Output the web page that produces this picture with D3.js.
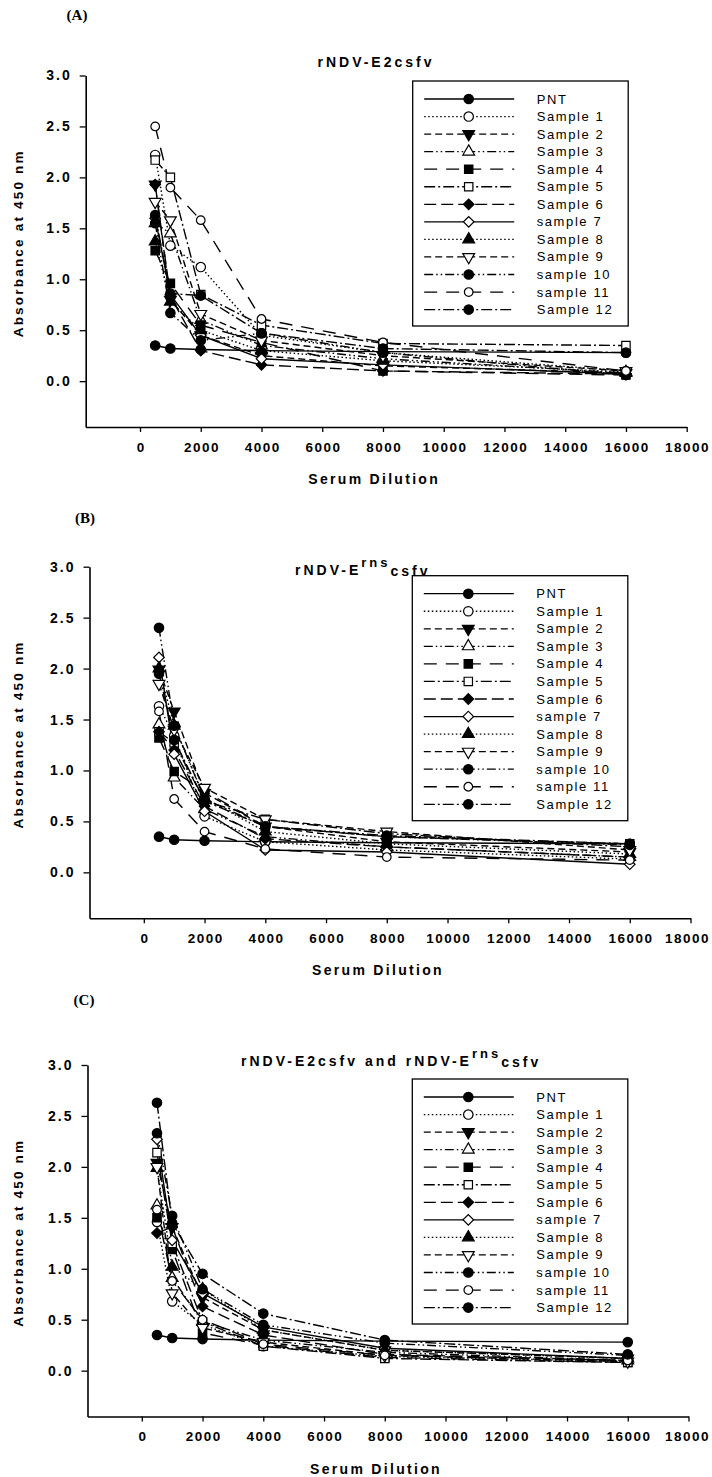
<!DOCTYPE html>
<html><head><meta charset="utf-8">
<script src="https://cdn.jsdelivr.net/npm/d3@7"></script>
<style>
html,body{margin:0;padding:0;background:#fff;}
svg{display:block;}
</style></head>
<body>
<svg id="chart" width="712" height="1477"></svg>
<script>
// ---------------- data ----------------
const dilutions = [500, 1000, 2000, 4000, 8000, 16000];
const seriesNames = ["PNT","Sample 1","Sample 2","Sample 3","Sample 4","Sample 5","Sample 6","sample 7","Sample 8","Sample 9","sample 10","sample 11","Sample 12"];
const xTickValues = [0,2000,4000,6000,8000,10000,12000,14000,16000,18000];
const yTickValues = [0.0,0.5,1.0,1.5,2.0,2.5,3.0];
const panelLabels = ["(A)","(B)","(C)"];
const xAxisTitle = "Serum Dilution";
const yAxisTitle = "Absorbance at 450 nm";

// Panel A: rNDV-E2csfv
const absorbanceA = [
  [0.35,0.32,0.31,0.30,0.29,0.28],
  [2.22,1.33,1.12,0.45,0.28,0.10],
  [1.93,0.80,0.45,0.25,0.15,0.08],
  [1.55,1.45,0.60,0.35,0.22,0.08],
  [1.28,0.96,0.55,0.38,0.10,0.06],
  [2.17,2.00,0.85,0.55,0.37,0.35],
  [1.93,0.83,0.30,0.16,0.10,0.07],
  [1.60,0.85,0.45,0.22,0.16,0.07],
  [1.37,0.78,0.50,0.30,0.20,0.09],
  [1.76,1.58,0.66,0.40,0.25,0.10],
  [1.55,0.67,0.40,0.47,0.28,0.06],
  [2.50,1.90,1.58,0.61,0.38,0.10],
  [1.63,0.86,0.84,0.47,0.32,0.28]
];
// Panel B: rNDV-Erns csfv
const absorbanceB = [
  [0.35,0.32,0.31,0.30,0.29,0.28],
  [1.63,1.34,0.55,0.30,0.22,0.13],
  [1.99,1.58,0.78,0.45,0.30,0.20],
  [1.45,0.93,0.62,0.35,0.25,0.15],
  [1.32,0.99,0.80,0.45,0.35,0.28],
  [1.38,1.27,0.70,0.52,0.38,0.25],
  [1.38,1.20,0.65,0.33,0.25,0.15],
  [2.11,1.16,0.60,0.22,0.20,0.08],
  [2.00,1.44,0.73,0.40,0.28,0.18],
  [1.85,1.40,0.83,0.52,0.40,0.22],
  [2.40,1.44,0.72,0.45,0.35,0.27],
  [1.58,0.72,0.40,0.23,0.15,0.12],
  [1.95,1.30,0.70,0.45,0.36,0.28]
];
// Panel C: rNDV-E2csfv and rNDV-Erns csfv
const absorbanceC = [
  [0.35,0.32,0.31,0.30,0.29,0.28],
  [1.46,0.68,0.45,0.24,0.14,0.09],
  [2.04,1.41,0.72,0.40,0.20,0.12],
  [1.62,0.91,0.48,0.30,0.18,0.10],
  [1.50,1.19,0.37,0.25,0.13,0.08],
  [2.14,1.25,0.48,0.24,0.12,0.08],
  [1.35,1.41,0.63,0.35,0.16,0.10],
  [2.27,1.28,0.76,0.43,0.22,0.12],
  [1.99,1.02,0.80,0.40,0.20,0.12],
  [2.00,0.76,0.42,0.28,0.15,0.09],
  [2.33,1.52,0.80,0.45,0.27,0.15],
  [1.58,0.88,0.50,0.26,0.15,0.10],
  [2.63,1.45,0.95,0.56,0.30,0.16]
];

// ---------------- styles ----------------
const SANS = "'Liberation Sans', Arial, Helvetica, sans-serif";
const SERIF = "'Liberation Serif', 'Times New Roman', serif";
const styles = [
  {dash:null, sym:"circle", fill:true},
  {dash:"1.5,2.5", sym:"circle", fill:false},
  {dash:"7,4", sym:"tridown", fill:true},
  {dash:"9,3,1.5,3,1.5,3", sym:"triup", fill:false},
  {dash:"13,9", sym:"square", fill:true},
  {dash:"11,3,2,3", sym:"square", fill:false},
  {dash:"12,5", sym:"diamond", fill:true},
  {dash:null, sym:"diamond", fill:false},
  {dash:"1.5,2.5", sym:"triup", fill:true},
  {dash:"7,4", sym:"tridown", fill:false},
  {dash:"9,3,1.5,3,1.5,3", sym:"circle", fill:true},
  {dash:"13,9", sym:"circle", fill:false, small:true},
  {dash:"11,3,2,3", sym:"circle", fill:true}
];
function symbolPath(s){
  switch(s.sym){
    case "circle": return d3.symbol(d3.symbolCircle, s.small?58:70)();
    case "square": return d3.symbol(d3.symbolSquare, 70)();
    case "diamond": return d3.symbol(d3.symbolSquare, 56)();
    case "triup": return d3.symbol(d3.symbolTriangle, 60)();
    case "tridown": return d3.symbol(d3.symbolTriangle, 60)();
  }
}
function symbolRotate(s){
  if(s.sym==="diamond") return 45;
  if(s.sym==="tridown") return 180;
  return 0;
}

const svg = d3.select("#chart");
const W = 601, H = 351.5;

const panels = [
  {left:85.7, top:75.5, data:absorbanceA, label:[77,20],
   title:[{t:"rNDV-E2csfv"}], titleX:376, titleY:67, anchor:"middle",
   legend:[412.7,81]},
  {left:89.5, top:566.7, data:absorbanceB, label:[85,523],
   title:[{t:"rNDV-E"},{t:"rns",sup:true},{t:"csfv"}], titleX:295, titleY:575, anchor:"start",
   legend:[412.3,575.7]},
  {left:87.5, top:1065, data:absorbanceC, label:[84,1005],
   title:[{t:"rNDV-E2csfv and rNDV-E"},{t:"rns",sup:true},{t:"csfv"}], titleX:241, titleY:1066, anchor:"start",
   legend:[412.3,1079]}
];

panels.forEach((p,pi)=>{
  const g = svg.append("g");
  const x = d3.scaleLinear().domain([-1788,18000]).range([p.left, p.left+W]);
  const y = d3.scaleLinear().domain([-0.45,3.0]).range([p.top+H, p.top]);

  // panel label
  g.append("text").attr("x",p.label[0]).attr("y",p.label[1])
    .attr("text-anchor","middle").attr("font-family",SERIF).attr("font-weight","bold")
    .attr("font-size",15).text(panelLabels[pi]);

  // title
  const tt = g.append("text").attr("x",p.titleX).attr("y",p.titleY)
    .attr("text-anchor",p.anchor).attr("font-family",SANS).attr("font-weight","bold")
    .attr("font-size",14).style("letter-spacing","3px");
  p.title.forEach(part=>{
    const ts = tt.append("tspan").text(part.t);
    if(part.sup){ ts.attr("dy",-8).attr("font-size",13); }
    else if(tt.selectAll("tspan").size()>1){ ts.attr("dy",9); }
  });

  // axes
  const ax = g.append("g").attr("transform",`translate(0,${p.top+H})`)
    .call(d3.axisBottom(x).tickValues(xTickValues).tickSize(5).tickSizeOuter(0).tickPadding(10).tickFormat(d3.format("d")));
  const ay = g.append("g").attr("transform",`translate(${p.left},0)`)
    .call(d3.axisLeft(y).tickValues(yTickValues).tickSize(6).tickSizeOuter(0).tickPadding(8).tickFormat(d3.format(".1f")));
  [ax,ay].forEach(a=>{
    a.select(".domain").attr("stroke","#000").attr("stroke-width",1.6);
    a.selectAll(".tick line").attr("stroke","#000").attr("stroke-width",1.3);
    a.selectAll(".tick text").attr("font-family",SANS).attr("font-weight","bold")
      .attr("font-size",14).attr("fill","#000").style("letter-spacing","2px");
  });
  ax.selectAll(".tick text").attr("font-size",13.5).style("letter-spacing","1.5px").attr("dx","0.75px");
  // keep the last x label inside the page
  ax.selectAll(".tick text").each(function(){
    const b = this.getBBox();
    const m = this.parentNode.transform.baseVal.consolidate().matrix;
    const right = m.e + b.x + b.width;
    if(right > 710){ d3.select(this).attr("dx", (0.75 - (right-710))+"px"); }
  });

  // axis titles
  g.append("text").attr("x",(p.left+p.left+W)/2 - 12).attr("y",p.top+H+57)
    .attr("text-anchor","middle").attr("font-family",SANS).attr("font-weight","bold")
    .attr("font-size",14).style("letter-spacing","2.3px").text(xAxisTitle);
  g.append("text").attr("transform",`translate(23,${p.top+H/2-8}) rotate(-90)`)
    .attr("text-anchor","middle").attr("font-family",SANS).attr("font-weight","bold")
    .attr("font-size",13.5).style("letter-spacing","2.2px").text(yAxisTitle);

  // series lines
  const line = d3.line().x(d=>x(d[0])).y(d=>y(d[1]));
  p.data.forEach((vals,si)=>{
    const s = styles[si];
    const pts = dilutions.map((dv,i)=>[dv,vals[i]]);
    g.append("path").attr("d",line(pts)).attr("fill","none").attr("stroke","#000")
      .attr("stroke-width",1.4).attr("stroke-dasharray",s.dash);
  });
  // markers
  p.data.forEach((vals,si)=>{
    const s = styles[si];
    dilutions.forEach((dv,i)=>{
      g.append("path").attr("d",symbolPath(s))
        .attr("transform",`translate(${x(dv)},${y(vals[i])}) rotate(${symbolRotate(s)})`)
        .attr("fill",s.fill?"#000":"#fff").attr("stroke","#000").attr("stroke-width",1.2);
    });
  });

  // legend
  const lx = p.legend[0], ly = p.legend[1];
  const lg = g.append("g");
  lg.append("rect").attr("x",lx).attr("y",ly).attr("width",215.5).attr("height",245)
    .attr("fill","#fff").attr("stroke","#000").attr("stroke-width",1.3);
  seriesNames.forEach((name,si)=>{
    const s = styles[si];
    const ry = ly + 18 + si*17.55;
    lg.append("line").attr("x1",lx+11.5).attr("x2",lx+101.5).attr("y1",ry).attr("y2",ry)
      .attr("stroke","#000").attr("stroke-width",1.3).attr("stroke-dasharray",s.dash);
    lg.append("path").attr("d",symbolPath(s))
      .attr("transform",`translate(${lx+56},${ry}) rotate(${symbolRotate(s)})`)
      .attr("fill",s.fill?"#000":"#fff").attr("stroke","#000").attr("stroke-width",1.2);
    lg.append("text").attr("x",lx+124).attr("y",ry+4.5).attr("font-family",SANS)
      .attr("font-size",13).style("letter-spacing","1.6px").text(name);
  });
});
</script>
</body></html>
